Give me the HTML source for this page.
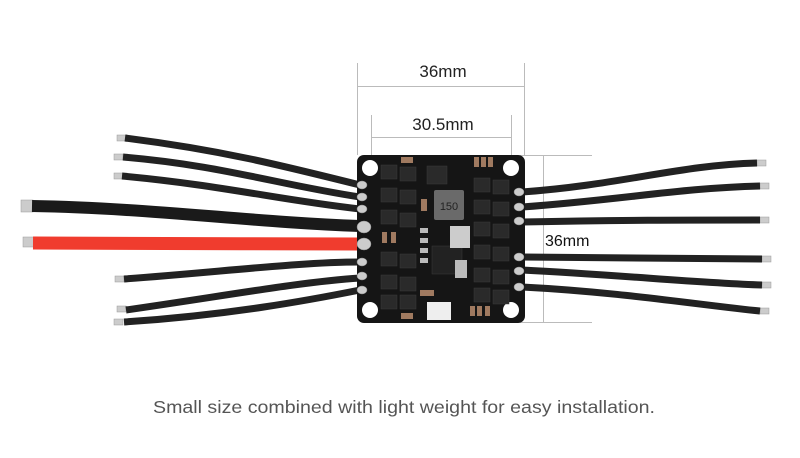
<!DOCTYPE html>
<html><head><meta charset="utf-8"><style>
html,body{margin:0;padding:0;background:#fff;width:800px;height:458px;overflow:hidden}
svg{display:block}
</style></head><body>
<svg width="800" height="458" viewBox="0 0 800 458" xmlns="http://www.w3.org/2000/svg">
<g stroke="#bbb" stroke-width="1" fill="none">
<line x1="357.5" y1="63" x2="357.5" y2="155"/>
<line x1="524.5" y1="63" x2="524.5" y2="155"/>
<line x1="357" y1="86.5" x2="525" y2="86.5"/>
<line x1="371.5" y1="115" x2="371.5" y2="160"/>
<line x1="511.5" y1="115" x2="511.5" y2="160"/>
<line x1="371" y1="137.5" x2="512" y2="137.5"/>
<line x1="543.5" y1="155" x2="543.5" y2="322"/>
<line x1="520" y1="155.5" x2="592" y2="155.5"/>
<line x1="520" y1="322.5" x2="592" y2="322.5"/>
</g>
<g font-family="Liberation Sans, sans-serif" font-size="17" fill="#222" text-anchor="middle">
<text x="443" y="77">36mm</text>
<text x="443" y="130">30.5mm</text>
</g>
<text x="545" y="246" font-family="Liberation Sans, sans-serif" font-size="16" fill="#111">36mm</text>
<!-- wire tips -->
<g fill="#ccc" stroke="#999" stroke-width="0.5">
<rect x="117" y="135" width="9" height="6"/><rect x="114" y="154" width="9" height="6"/><rect x="114" y="173" width="9" height="6"/>
<rect x="21" y="200" width="12" height="12"/><rect x="23" y="237" width="11" height="10"/>
<rect x="115" y="276" width="9" height="6"/><rect x="117" y="306" width="9" height="6"/><rect x="114" y="319" width="9" height="6"/>
<rect x="757" y="160" width="9" height="6"/><rect x="760" y="183" width="9" height="6"/><rect x="760" y="217" width="9" height="6"/>
<rect x="762" y="256" width="9" height="6"/><rect x="762" y="282" width="9" height="6"/><rect x="760" y="308" width="9" height="6"/>
</g>
<g fill="none" stroke="#222" stroke-width="7" stroke-linecap="butt">
<path d="M125 138 C220 150 280 165 360 185"/>
<path d="M123 157 C220 165 280 185 360 197"/>
<path d="M122 176 C220 185 280 200 360 209"/>
<path d="M124 279 C220 272 300 262 360 262"/>
<path d="M126 310 C230 295 300 282 360 278"/>
<path d="M124 322 C230 315 310 300 360 290"/>
<path d="M522 192 C620 185 680 165 757 163"/>
<path d="M522 207 C620 200 680 188 760 186"/>
<path d="M522 222 C620 220 680 220 760 220"/>
<path d="M522 257 C620 258 700 259 762 259"/>
<path d="M522 270 C620 275 700 283 762 285"/>
<path d="M522 287 C620 292 700 305 760 311"/>
</g>
<path d="M32 206 C150 208 250 222 360 226" fill="none" stroke="#1a1a1a" stroke-width="12"/>
<path d="M33 243 C150 243 250 244 360 244" fill="none" stroke="#f03c2e" stroke-width="13"/>
<!-- board -->
<rect x="357" y="155" width="168" height="168" rx="7" fill="#151515"/>
<circle cx="370" cy="168" r="8" fill="#fff"/><circle cx="511" cy="168" r="8" fill="#fff"/>
<circle cx="370" cy="310" r="8" fill="#fff"/><circle cx="511" cy="310" r="8" fill="#fff"/>
<g fill="#2a2a2a" stroke="#3a3a3a" stroke-width="0.5">
<rect x="381" y="165" width="16" height="14"/><rect x="400" y="167" width="16" height="14"/>
<rect x="381" y="188" width="16" height="14"/><rect x="400" y="190" width="16" height="14"/>
<rect x="381" y="210" width="16" height="14"/><rect x="400" y="213" width="16" height="14"/>
<rect x="381" y="252" width="16" height="14"/><rect x="400" y="254" width="16" height="14"/>
<rect x="381" y="275" width="16" height="14"/><rect x="400" y="277" width="16" height="14"/>
<rect x="381" y="295" width="16" height="14"/><rect x="400" y="295" width="16" height="14"/>
<rect x="474" y="178" width="16" height="14"/><rect x="493" y="180" width="16" height="14"/>
<rect x="474" y="200" width="16" height="14"/><rect x="493" y="202" width="16" height="14"/>
<rect x="474" y="222" width="16" height="14"/><rect x="493" y="224" width="16" height="14"/>
<rect x="474" y="245" width="16" height="14"/><rect x="493" y="247" width="16" height="14"/>
<rect x="474" y="268" width="16" height="14"/><rect x="493" y="270" width="16" height="14"/>
<rect x="474" y="288" width="16" height="14"/><rect x="493" y="290" width="16" height="14"/>
<rect x="432" y="246" width="30" height="28" fill="#222"/>
<rect x="427" y="166" width="20" height="18"/>
</g>
<rect x="434" y="190" width="30" height="30" rx="2" fill="#6a6a6a"/>
<text x="449" y="210" font-family="Liberation Sans, sans-serif" font-size="11" fill="#222" text-anchor="middle">150</text>
<rect x="450" y="226" width="20" height="22" fill="#ccc"/>
<rect x="455" y="260" width="12" height="18" fill="#bbb"/>
<g fill="#a07a60">
<rect x="401" y="157" width="12" height="6"/><rect x="474" y="157" width="5" height="10"/><rect x="481" y="157" width="5" height="10"/><rect x="488" y="157" width="5" height="10"/>
<rect x="421" y="199" width="6" height="12"/><rect x="382" y="232" width="5" height="11"/><rect x="391" y="232" width="5" height="11"/>
<rect x="420" y="290" width="14" height="6"/><rect x="470" y="306" width="5" height="10"/><rect x="477" y="306" width="5" height="10"/><rect x="485" y="306" width="5" height="10"/>
<rect x="401" y="313" width="12" height="6"/>
</g>
<rect x="427" y="302" width="24" height="18" fill="#eee"/>
<g fill="#bbb">
<rect x="420" y="228" width="8" height="5"/><rect x="420" y="238" width="8" height="5"/><rect x="420" y="248" width="8" height="5"/><rect x="420" y="258" width="8" height="5"/>
</g>
<g fill="#ccc" stroke="#888" stroke-width="0.5">
<ellipse cx="362" cy="185" rx="5" ry="4"/><ellipse cx="362" cy="197" rx="5" ry="4"/><ellipse cx="362" cy="209" rx="5" ry="4"/>
<ellipse cx="364" cy="227" rx="7" ry="6"/><ellipse cx="364" cy="244" rx="7" ry="6"/>
<ellipse cx="362" cy="262" rx="5" ry="4"/><ellipse cx="362" cy="276" rx="5" ry="4"/><ellipse cx="362" cy="290" rx="5" ry="4"/>
<ellipse cx="519" cy="192" rx="5" ry="4"/><ellipse cx="519" cy="207" rx="5" ry="4"/><ellipse cx="519" cy="221" rx="5" ry="4"/>
<ellipse cx="519" cy="257" rx="5" ry="4"/><ellipse cx="519" cy="271" rx="5" ry="4"/><ellipse cx="519" cy="287" rx="5" ry="4"/>
</g>
<text x="404" y="413" font-family="Liberation Sans, sans-serif" font-size="17.5" fill="#555" text-anchor="middle" textLength="502" lengthAdjust="spacingAndGlyphs">Small size combined with light weight for easy installation.</text>
</svg>
</body></html>
